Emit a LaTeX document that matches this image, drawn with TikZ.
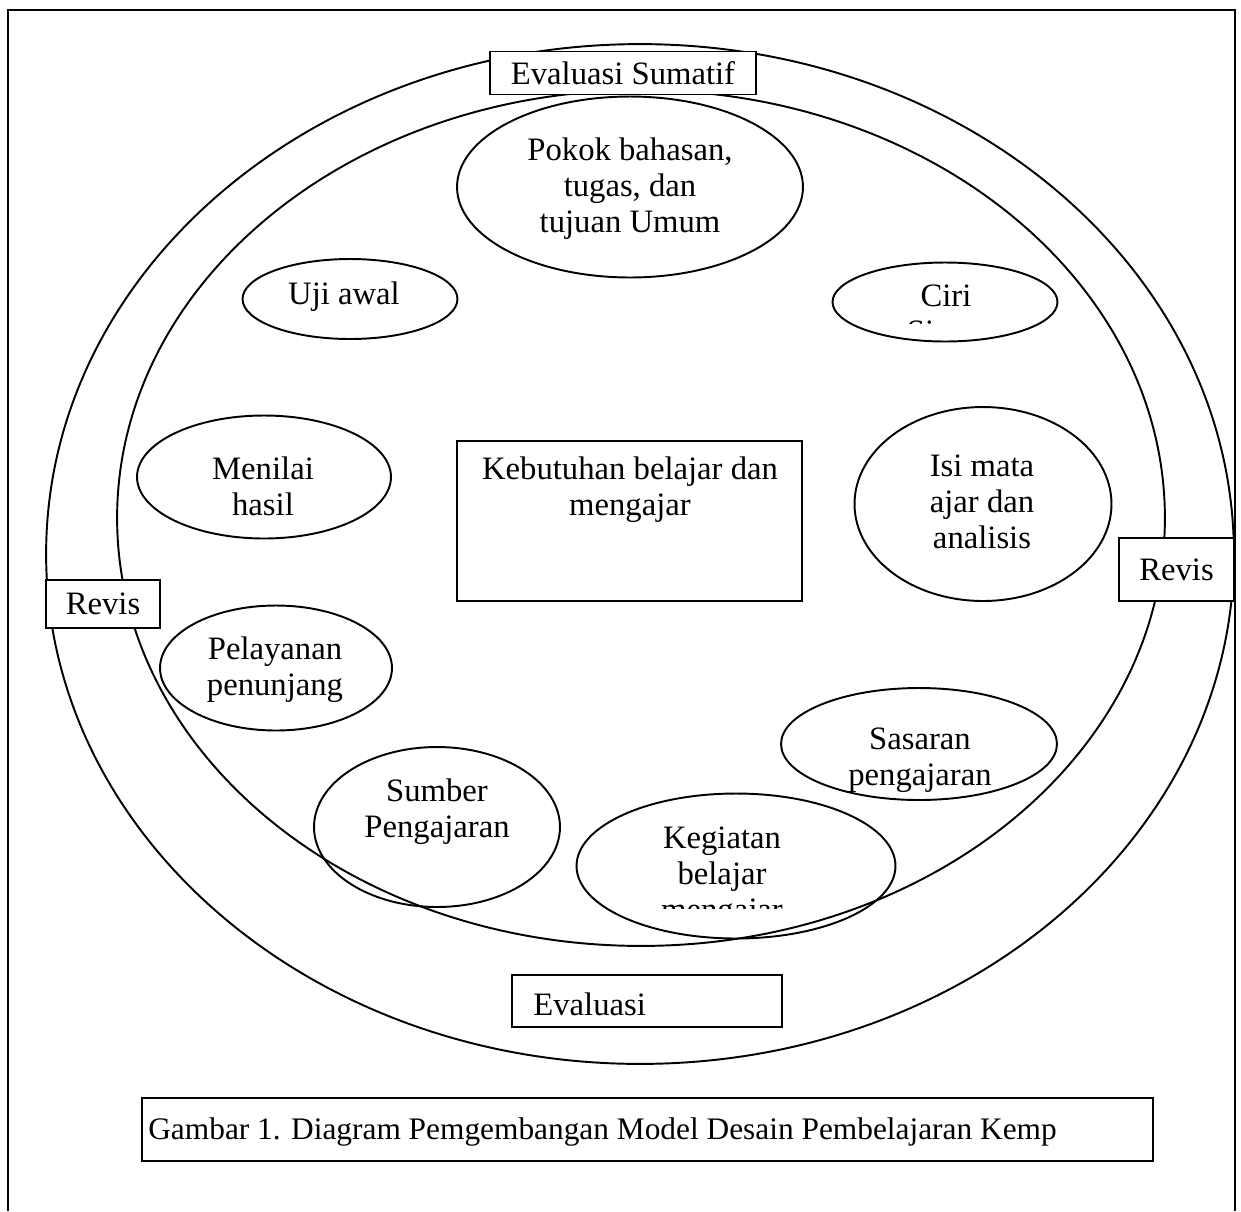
\documentclass[tikz,border=0pt]{standalone}
\usepackage{fontspec}
\setmainfont{Liberation Serif}
\usetikzlibrary{shapes.geometric}

\begin{document}
\begin{tikzpicture}[
    x=0.02cm, y=-0.02cm,
  kotak/.style={rectangle, draw, fill=white, line width=1.1pt, inner sep=0pt},
  lonjong/.style={ellipse, draw, line width=1.1pt, inner sep=0pt},
  teks/.style={align=center, inner sep=0pt, font=\fontsize{18.6}{20.5}\selectfont}
]
\useasboundingbox (0,0) rectangle (1241,1211);

% Frame and rings
\draw[line width=1.6pt] (8,1211) -- (8,10) -- (1235,10) -- (1235,1211);
\draw[line width=1.1pt] (640,554) ellipse [x radius=11.88cm, y radius=10.2cm];
\draw[line width=1.1pt] (641,518) ellipse [x radius=10.48cm, y radius=8.56cm];

% Boxes on the rings
\node[kotak, minimum width=5.32cm, minimum height=0.86cm, teks] (sumatif) at (623,73) {Evaluasi Sumatif};
\node[kotak, minimum width=2.28cm, minimum height=0.96cm, teks] (revkiri) at (103,604) {Revis};
\node[kotak, minimum width=2.3cm, minimum height=1.26cm, teks] (revkanan) at (1176.5,569.5) {Revis};
\node[kotak, minimum width=5.4cm, minimum height=1.04cm] (evaluasi) at (647,1001) {};
\node[teks, anchor=west] (evaluasi-teks) at (533,1004) {Evaluasi};

% Centre box
\node[kotak, minimum width=6.9cm, minimum height=3.2cm] (kebutuhan) at (629.5,521) {};
\node[teks] (kebutuhan-teks) at (630,490) {Kebutuhan belajar dan\\mengajar};

% Ellipses
\node[lonjong, minimum width=6.92cm, minimum height=3.62cm] (pokok) at (630,187) {};
\node[teks] (pokok-teks) at (630,189) {Pokok bahasan,\\tugas, dan\\tujuan Umum};
\node[lonjong, minimum width=4.3cm, minimum height=1.6cm] (ujiawal) at (350,299) {};
\node[teks] (ujiawal-teks) at (344,297) {Uji awal};
\node[lonjong, minimum width=4.5cm, minimum height=1.58cm] (ciri) at (945,302) {};
\begin{scope}
\clip (833,263) rectangle (1058,323);
\node[teks] (ciri-teks) at (946,314) {Ciri\\Siswa};
\end{scope}
\node[lonjong, minimum width=5.08cm, minimum height=2.46cm] (menilai) at (264,477) {};
\node[teks] (menilai-teks) at (263,486) {Menilai\\hasil};
\node[lonjong, minimum width=5.14cm, minimum height=3.88cm] (isi) at (983,504) {};
\node[teks] (isi-teks) at (982,502) {Isi mata\\ajar dan\\analisis};
\node[lonjong, minimum width=4.64cm, minimum height=2.5cm] (pelayanan) at (276,668) {};
\node[teks] (pelayanan-teks) at (275,670) {Pelayanan\\penunjang};
\node[lonjong, minimum width=5.52cm, minimum height=2.24cm] (sasaran) at (919,744) {};
\node[teks] (sasaran-teks) at (920,760) {Sasaran\\pengajaran};
\node[lonjong, minimum width=4.92cm, minimum height=3.2cm] (sumber) at (437,827) {};
\node[teks] (sumber-teks) at (437,812) {Sumber\\Pengajaran};
\node[lonjong, minimum width=6.38cm, minimum height=2.9cm] (kegiatan) at (736,866) {};
\begin{scope}
\clip (577,793) rectangle (896,908);
\node[teks] (kegiatan-teks) at (722,877) {Kegiatan\\belajar\\mengajar};
\end{scope}

% Caption
\node[kotak, minimum width=20.22cm, minimum height=1.26cm] (gambar) at (647.5,1129.5) {};
\node[teks, anchor=west, font=\fontsize{17.85}{20}\selectfont] (gambar-teks) at (148,1132) {Gambar 1. Diagram Pemgembangan Model Desain Pembelajaran Kemp};

\end{tikzpicture}
\end{document}
